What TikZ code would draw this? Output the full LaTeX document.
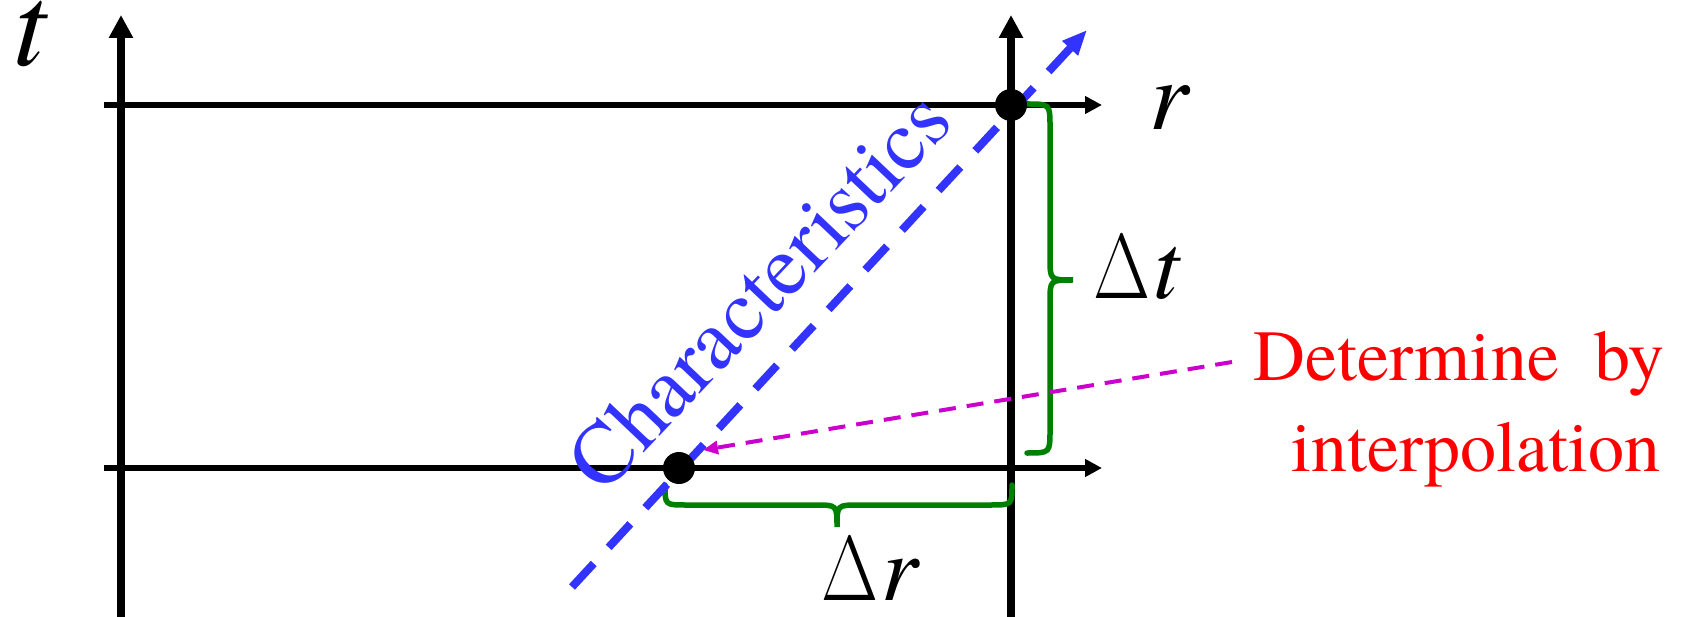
\documentclass[tikz,border=0pt]{standalone}
\usepackage{fontspec}
\setmainfont{texgyretermes-regular.otf}[ItalicFont=texgyretermes-italic.otf,BoldFont=texgyretermes-bold.otf]
\usetikzlibrary{arrows.meta}
\definecolor{charblue}{RGB}{51,51,255}
\definecolor{bracegreen}{RGB}{0,128,0}
\definecolor{interpmag}{RGB}{204,0,204}
\definecolor{labelred}{RGB}{255,0,0}
\newcommand{\bigDelta}{\resizebox{57pt}{63pt}{$\Delta$}\kern3pt}
\begin{document}
\begin{tikzpicture}[x=1pt,y=-1pt,
  vaxis/.style={line width=7.5pt,-{Triangle[length=23pt,width=23pt]}},
  haxis/.style={line width=6.5pt,-{Triangle[length=17pt,width=17pt]}},
  gridpt/.style={circle,fill=black,inner sep=0pt,minimum size=32pt},
  charline/.style={charblue,line width=8pt,dash pattern=on 32pt off 22pt,-{Triangle[length=25pt,width=20pt]}},
  interp/.style={interpmag,line width=4pt,dash pattern=on 17pt off 11pt,-{Triangle[length=15pt,width=13pt]}},
  bracepath/.style={bracegreen,line width=5.5pt,line cap=round},
  axlbl/.style={inner sep=0pt,font=\fontsize{100}{100}\selectfont\itshape},
  dlbl/.style={inner sep=0pt,font=\fontsize{94}{94}\selectfont},
  charlbl/.style={inner sep=0pt,text=charblue,font=\fontsize{86}{86}\selectfont},
  redlbl/.style={inner sep=0pt,text=labelred,font=\fontsize{72}{72}\selectfont}
]
\useasboundingbox (0,0) rectangle (1683,617);

% axes
\coordinate (lb) at (121,617);
\coordinate (lt) at (121,15);
\coordinate (rb) at (1011,617);
\coordinate (rt) at (1011,15);
\coordinate (h1s) at (104,105);
\coordinate (h1e) at (1102,105);
\coordinate (h2s) at (104,468);
\coordinate (h2e) at (1102,468);
\draw[vaxis] (lb) -- (lt);
\draw[vaxis] (rb) -- (rt);
\draw[haxis] (h1s) -- (h1e);
\draw[haxis] (h2s) -- (h2e);

% axis labels
\node[axlbl,anchor=base,font=\fontsize{118}{118}\selectfont\itshape] (tlab) at (30,66) {t};
\node[axlbl,anchor=base] (rlab) at (1169,130) {r};

% braces
\draw[bracepath] (1027,104) .. controls (1050,104) .. (1050,127) -- (1050,258)
  .. controls (1050,280) .. (1073,280) .. controls (1050,280) .. (1050,302)
  -- (1050,430) .. controls (1050,453) .. (1027,453);
\draw[bracepath] (665,485) .. controls (665,505) .. (686,505) -- (815,505)
  .. controls (837,505) .. (837,527) .. controls (837,505) .. (859,505)
  -- (990,505) .. controls (1012,505) .. (1012,485);
\node[dlbl,anchor=base west] (dt) at (1093,299) {\bigDelta\textit{t}};
\node[dlbl,anchor=base west] (dr) at (821,600) {\bigDelta\textit{r}};

% characteristic line
\coordinate (cs) at (572,587);
\coordinate (ce) at (1087,30);
\draw[charline] (cs) -- (ce);
\node[charlbl,rotate=46.5] (chr) at (759,290) {Characteristics};

% interpolation arrow
\coordinate (ms) at (1232,362);
\coordinate (mt) at (703,450);
\draw[interp] (ms) -- (mt);
\node[redlbl,anchor=base east] (det1) at (1665,381) {Determine\ \ by};
\node[redlbl,anchor=base east] (det2) at (1661,471) {interpolation};

% grid points
\node[gridpt] (P) at (1011,105) {};
\node[gridpt] (Q) at (679,468) {};
\end{tikzpicture}
\end{document}
